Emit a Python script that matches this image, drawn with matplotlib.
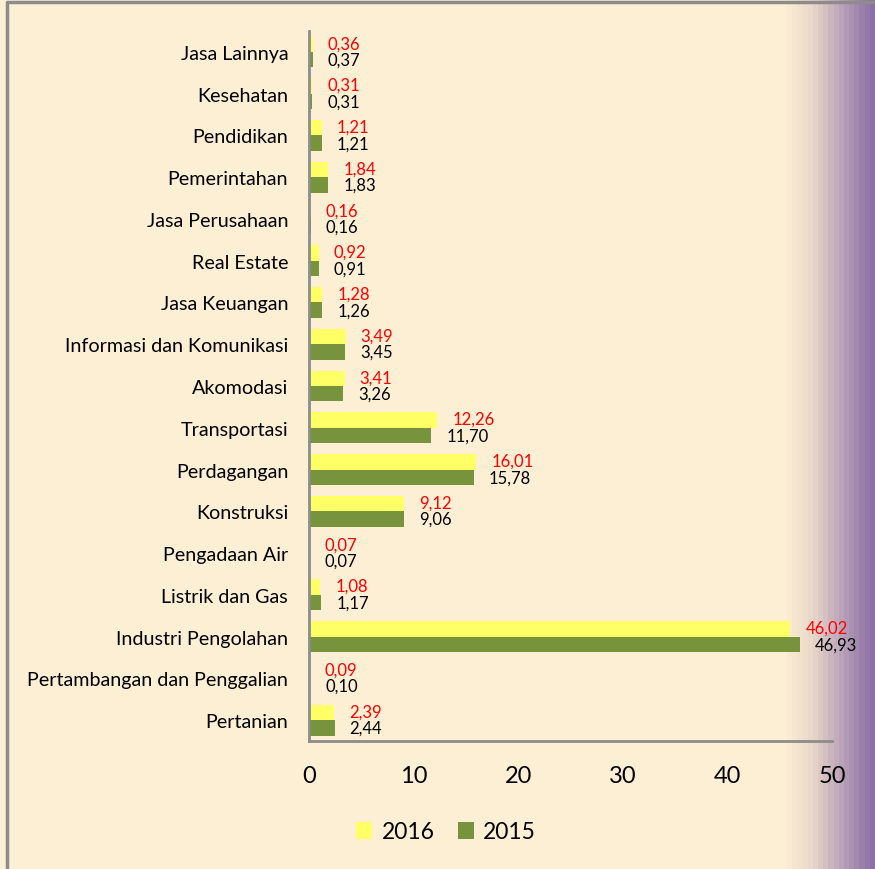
import numpy as np
import matplotlib
matplotlib.use("Agg")
import matplotlib.pyplot as plt
from matplotlib.colors import LinearSegmentedColormap
from matplotlib.patches import Rectangle

plt.rcParams['font.family'] = ['Lato', 'DejaVu Sans']

# sectors, bottom to top
sectors = ['Pertanian', 'Pertambangan dan Penggalian', 'Industri Pengolahan',
           'Listrik dan Gas', 'Pengadaan Air', 'Konstruksi', 'Perdagangan',
           'Transportasi', 'Akomodasi', 'Informasi dan Komunikasi',
           'Jasa Keuangan', 'Real Estate', 'Jasa Perusahaan', 'Pemerintahan',
           'Pendidikan', 'Kesehatan', 'Jasa Lainnya']
vals_2016 = [2.39, 0.09, 46.02, 1.08, 0.07, 9.12, 16.01, 12.26, 3.41, 3.49,
             1.28, 0.92, 0.16, 1.84, 1.21, 0.31, 0.36]
vals_2015 = [2.44, 0.10, 46.93, 1.17, 0.07, 9.06, 15.78, 11.70, 3.26, 3.45,
             1.26, 0.91, 0.16, 1.83, 1.21, 0.31, 0.37]
xticks = [0, 10, 20, 30, 40, 50]

bg = '#FDEFD4'
yellow = '#FFFF66'
green = '#77933C'

fig = plt.figure(figsize=(8.75, 8.7), dpi=100, facecolor=bg)

# background with stepped gradient on the right edge
bg_ax = fig.add_axes([0, 0, 1, 1], zorder=-1)
bg_ax.axis('off')
cmap = LinearSegmentedColormap.from_list('grad', [bg, '#E8D6C8', '#B8A0B8', '#8C70A6'])
n_steps = 18
x0 = 782 / 875
grad = np.linspace(0, 1, n_steps).reshape(1, -1)
bg_ax.imshow(grad, cmap=cmap, aspect='auto', extent=[x0, 1, 0, 1],
             interpolation='nearest')
bg_ax.add_patch(Rectangle((0, 0), x0, 1, color=bg, lw=0))
bg_ax.set_xlim(0, 1)
bg_ax.set_ylim(0, 1)
# outer border (top & left)
bg_ax.plot([6.5 / 875, 6.5 / 875, 1.0], [0, 1 - 3 / 870, 1 - 3 / 870],
           color='#8C8C8C', lw=2.5, solid_capstyle='butt')

ax = fig.add_axes([309 / 875, 1 - 742 / 870, 523 / 875, 710 / 870])
ax.set_facecolor('none')

y = np.arange(len(sectors))
h = 0.37
ax.barh(y + h / 2, vals_2016, height=h, color=yellow, label='2016', zorder=2)
ax.barh(y - h / 2, vals_2015, height=h, color=green, label='2015', zorder=2)

for yi, a, b in zip(y, vals_2016, vals_2015):
    ax.annotate(f'{a:.2f}'.replace('.', ','), (a, yi + h / 2), xytext=(15, 1),
                textcoords='offset pixels', va='center', ha='left',
                color='#FF0000', fontsize=12)
    ax.annotate(f'{b:.2f}'.replace('.', ','), (b, yi - h / 2), xytext=(15, 0),
                textcoords='offset pixels', va='center', ha='left',
                color='black', fontsize=12)

ax.set_xlim(0, 50)
ax.set_ylim(-0.5, len(sectors) - 0.5)
ax.set_xticks(xticks)
ax.set_xticklabels([str(t) for t in xticks], fontsize=17)
ax.set_yticks(y)
ax.set_yticklabels(sectors, fontsize=14.2)
ax.tick_params(axis='both', length=0)
ax.tick_params(axis='x', pad=17)
ax.tick_params(axis='y', pad=15)
for s in ['top', 'right']:
    ax.spines[s].set_visible(False)
for s in ['left', 'bottom']:
    ax.spines[s].set_color('#8C8C8C')
    ax.spines[s].set_linewidth(2)

handles, labels = ax.get_legend_handles_labels()
fig.legend(handles, labels, loc='center', bbox_to_anchor=(446 / 875, 1 - 833 / 870),
           ncol=2, frameon=False, fontsize=16.5, handlelength=0.7, handleheight=0.7,
           handletextpad=0.4, columnspacing=1.0)

fig.savefig('out.png', dpi=100, facecolor=bg)
